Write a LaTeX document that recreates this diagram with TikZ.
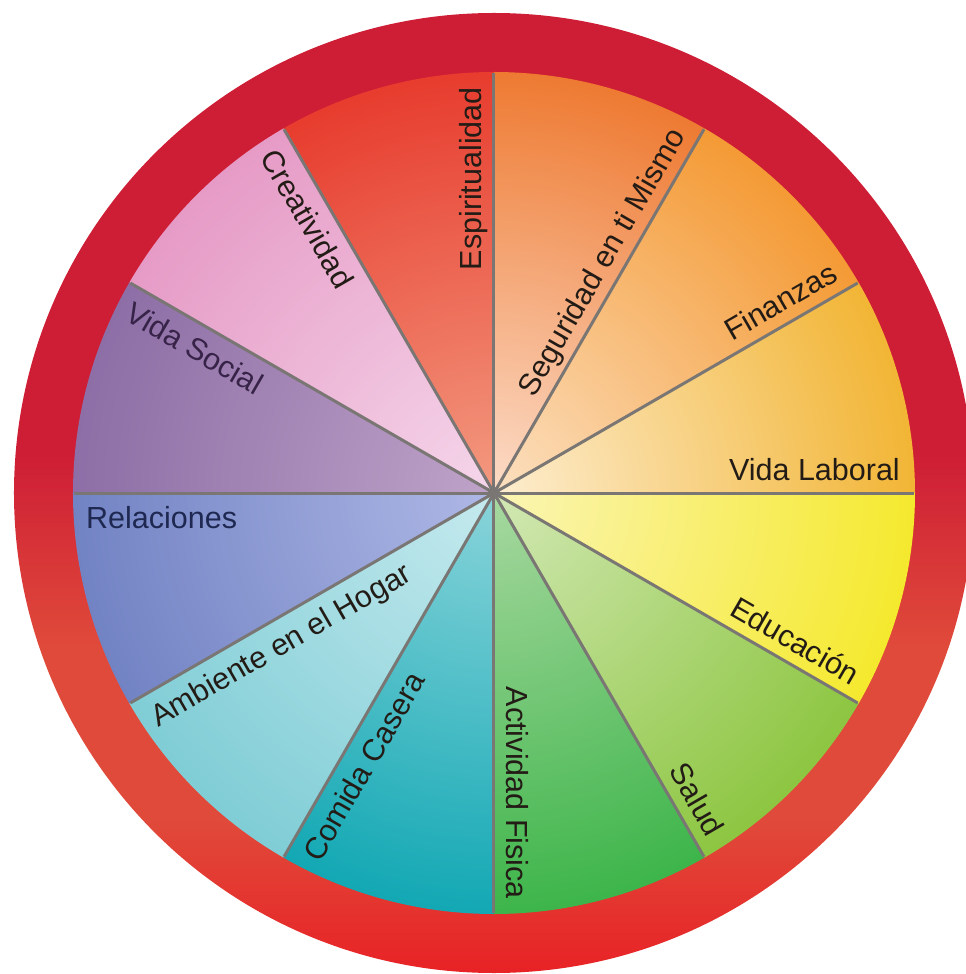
\documentclass[tikz,border=0pt]{standalone}
\usepackage{fontspec}
\setmainfont{Liberation Sans}
\usepackage{tikz}
\usetikzlibrary{calc}
\definecolor{ringtop}{RGB}{206,30,54}
\definecolor{ringmid}{RGB}{224,74,58}
\definecolor{ringbot}{RGB}{232,34,38}
\definecolor{spokegray}{RGB}{122,118,116}
\definecolor{laboralin}{RGB}{253,237,208}
\definecolor{laboralout}{RGB}{242,181,53}
\definecolor{finanzasin}{RGB}{252,224,192}
\definecolor{finanzasout}{RGB}{244,154,53}
\definecolor{seguridadin}{RGB}{252,220,200}
\definecolor{seguridadout}{RGB}{238,122,50}
\definecolor{espiritin}{RGB}{243,154,128}
\definecolor{espiritout}{RGB}{231,60,46}
\definecolor{creatin}{RGB}{245,214,234}
\definecolor{creatout}{RGB}{230,155,198}
\definecolor{socialin}{RGB}{191,163,200}
\definecolor{socialout}{RGB}{141,110,166}
\definecolor{relacin}{RGB}{175,184,230}
\definecolor{relacout}{RGB}{114,131,196}
\definecolor{hogarin}{RGB}{197,234,238}
\definecolor{hogarout}{RGB}{128,205,214}
\definecolor{comidain}{RGB}{138,212,218}
\definecolor{comidaout}{RGB}{18,168,180}
\definecolor{fisicain}{RGB}{168,216,160}
\definecolor{fisicaout}{RGB}{61,181,74}
\definecolor{saludin}{RGB}{210,232,180}
\definecolor{saludout}{RGB}{141,198,65}
\definecolor{educin}{RGB}{251,245,181}
\definecolor{educout}{RGB}{245,233,46}
\definecolor{inkwarm}{RGB}{35,28,22}
\definecolor{inknavy}{RGB}{30,40,80}
\definecolor{inkplum}{RGB}{55,35,72}
\pgfdeclareverticalshading{ringshade}{100bp}{color(0bp)=(ringbot); color(25bp)=(ringbot);
  color(33bp)=(ringmid); color(42bp)=(ringmid); color(52bp)=(ringtop); color(100bp)=(ringtop)}
\tikzset{
  spoke/.style={draw=spokegray, line width=3bp},
  rlabel/.style={font=\fontsize{30.5bp}{36bp}\selectfont, inner sep=0pt,
    anchor=base east, text=inkwarm},
  llabel/.style={font=\fontsize{30.5bp}{36bp}\selectfont, inner sep=0pt,
    anchor=base west, text=inkwarm}
}

\begin{document}
\begin{tikzpicture}[x=1bp, y=1bp]
  \useasboundingbox (-494,-481) rectangle (472,493);
  \coordinate (hub) at (0,0);

  % Ring
  \shade[shading=ringshade] (hub) circle (480);

  % Sectors
  \foreach \a/\cin/\cout in {0/laboralin/laboralout, 30/finanzasin/finanzasout,
      60/seguridadin/seguridadout, 90/espiritin/espiritout, 120/creatin/creatout,
      150/socialin/socialout, 180/relacin/relacout, 210/hogarin/hogarout,
      240/comidain/comidaout, 270/fisicain/fisicaout, 300/saludin/saludout,
      330/educin/educout} {
    \begin{scope}
      \clip (hub) -- (\a:421) arc[start angle=\a, end angle=\a+30, radius=421] -- cycle;
      \shade[inner color=\cin, outer color=\cout] (hub) circle (421);
    \end{scope}
  }

  % Spokes
  \foreach \a in {0,30,...,330} {
    \coordinate (rim\a) at (\a:420);
    \draw[spoke] (hub) -- (rim\a);
  }
  \fill[spokegray] (hub) circle (6);

  % Labels
  \node[rlabel, rotate=0] (laboral) at ($(0:406)+(90:12)$) {Vida Laboral};
  \node[rlabel, rotate=30] (finanzas) at ($(30:406)+(120:12)$) {Finanzas};
  \node[rlabel, rotate=60] (seguridad) at ($(60:406)+(150:12)$) {Seguridad en ti Mismo};
  \node[rlabel, rotate=90] (espiritualidad) at ($(90:406)+(180:12)$) {Espiritualidad};
  \node[llabel, rotate=-60] (creatividad) at ($(120:408)+(210:35)$) {Creatividad};
  \node[llabel, rotate=-30, text=inkplum] (social) at ($(150:408)+(240:35)$) {Vida Social};
  \node[llabel, rotate=0, text=inknavy] (relaciones) at ($(180:408)+(270:35)$) {Relaciones};
  \node[llabel, rotate=30] (hogar) at ($(210:408)+(300:35)$) {Ambiente en el Hogar};
  \node[llabel, rotate=60] (comida) at ($(240:408)+(330:35)$) {Comida Casera};
  \node[rlabel, rotate=270] (fisica) at ($(270:406)+(0:12)$) {Actividad Fisica};
  \node[rlabel, rotate=300] (salud) at ($(300:406)+(30:12)$) {Salud};
  \node[rlabel, rotate=330] (educacion) at ($(330:406)+(60:12)$) {Educación};
\end{tikzpicture}
\end{document}
